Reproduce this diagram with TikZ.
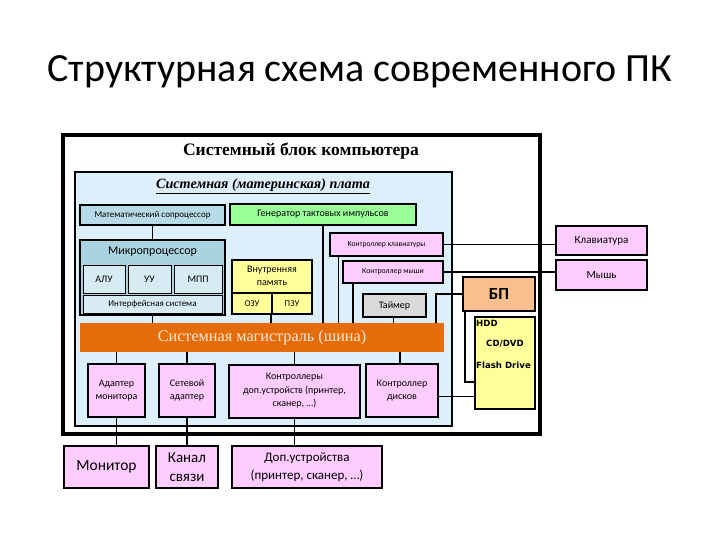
\documentclass[tikz,border=0pt]{standalone}
\usepackage{fontspec}
\setmainfont{Liberation Serif}
\setsansfont{Carlito}
\newfontfamily\boldsans{DejaVu Sans}
\usetikzlibrary{positioning,calc}
\definecolor{PCBoard}{HTML}{DDEFFA}
\definecolor{PCSteel}{HTML}{B7DBE6}
\definecolor{PCCpu}{HTML}{A9D3DF}
\definecolor{PCCpuPart}{HTML}{D6EBF2}
\definecolor{PCGreen}{HTML}{99FF99}
\definecolor{PCYellow}{HTML}{FFFF99}
\definecolor{PCPink}{HTML}{FFCCFF}
\definecolor{PCGray}{HTML}{D9D9D9}
\definecolor{PCOrange}{HTML}{E46C0A}
\definecolor{PCPeach}{HTML}{FABF8F}
\definecolor{PCCream}{HTML}{FDE9D9}
\newcommand{\fsz}[1]{\fontsize{#1}{\dimexpr #1pt*27/20\relax}\selectfont}

\begin{document}
\begin{tikzpicture}[
    x=1pt,y=-1pt,
    box/.style={draw=black, line width=2pt, inner sep=0pt, align=center,
      font=\sffamily\fsz{10}},
    pinkbox/.style={box, fill=PCPink},
    cpupart/.style={box, line width=1pt, fill=PCCpuPart},
    wire/.style={draw=black, line width=1.8pt}
  ]
    \useasboundingbox (0,0) rectangle (720,540);

    \node[font=\sffamily\fsz{40}, anchor=center] (title) at (360,72)
      {Структурная схема современного ПК};

    % системный блок и плата
    \node[draw=black, line width=4pt, minimum width=477, minimum height=299,
      inner sep=0pt] (unit) at (301.5,284.5) {};
    \node[font=\bfseries\fsz{17.5}] (unitlbl) at (301,151) {Системный блок компьютера};
    \node[draw=black, line width=2pt, fill=PCBoard, minimum width=377,
      minimum height=254, inner sep=0pt] (board) at (263.5,299) {};
    \node[font=\bfseries\itshape\fsz{14.2}] (boardlbl) at (263,186)
      {\underline{Системная (материнская) плата}};

    % верхний ряд
    \node[box, fill=PCSteel, minimum width=145, minimum height=20,
      font=\sffamily\fsz{9}] (cop) at (152.5,215) {Математический сопроцессор};
    \node[box, fill=PCGreen, minimum width=186, minimum height=21,
      font=\sffamily\fsz{10}] (gen) at (323,214.5) {Генератор тактовых импульсов};

    % микропроцессор
    \node[box, fill=PCCpu, minimum width=145, minimum height=75] (cpu) at (152.5,277.5) {};
    \node[font=\sffamily\fsz{12}] (cpulbl) at (152.5,252) {Микропроцессор};
    \node[cpupart, minimum width=42, minimum height=28] (alu) at (104,279) {АЛУ};
    \node[cpupart, minimum width=43, minimum height=28] (cu) at (149.5,279) {УУ};
    \node[cpupart, minimum width=48, minimum height=28] (mpp) at (198,279) {МПП};
    \node[cpupart, minimum width=139, minimum height=18,
      font=\sffamily\fsz{9}] (ifs) at (152.5,304) {Интерфейсная система};

    % память
    \node[box, fill=PCYellow, minimum width=80, minimum height=54] (mem) at (272,287) {};
    \node[font=\sffamily\fsz{10}, align=center] (memlbl) at (272,276)
      {Внутренняя\\память};
    \node[box, fill=PCYellow, minimum width=40, minimum height=21,
      font=\sffamily\fsz{9}] (ram) at (252,303.5) {ОЗУ};
    \node[box, fill=PCYellow, minimum width=40, minimum height=21,
      font=\sffamily\fsz{9}] (rom) at (292,303.5) {ПЗУ};

    % контроллеры справа
    \node[pinkbox, minimum width=113, minimum height=23,
      font=\sffamily\fsz{7.6}] (kbc) at (386.5,244.5) {Контроллер клавиатуры};
    \node[pinkbox, minimum width=100, minimum height=22,
      font=\sffamily\fsz{7.8}] (msc) at (393,272) {Контроллер мыши};
    \node[box, fill=PCGray, minimum width=63, minimum height=23,
      font=\sffamily\fsz{10}] (tmr) at (394.5,305.5) {Таймер};

    % шина
    \node[fill=PCOrange, minimum width=364, minimum height=29, inner sep=0pt,
      font=\fsz{16.2}, text=PCCream] (bus) at (262,337.5) {Системная магистраль (шина)};

    % нижний ряд платы
    \node[pinkbox, minimum width=57, minimum height=53] (vga) at (116.5,390.5)
      {Адаптер\\монитора};
    \node[pinkbox, minimum width=56, minimum height=53] (nic) at (187,390.5)
      {Сетевой\\адаптер};
    \node[pinkbox, minimum width=131, minimum height=53] (ioc) at (294.5,391)
      {Контроллеры\\доп.устройств (принтер,\\сканер, \dots)};
    \node[pinkbox, minimum width=72, minimum height=53] (hdc) at (402,390.5)
      {Контроллер\\дисков};

    % внешние устройства
    \node[pinkbox, minimum width=85, minimum height=42,
      font=\sffamily\fsz{15.5}] (mon) at (106.5,467) {Монитор};
    \node[pinkbox, minimum width=62, minimum height=42,
      font=\sffamily\fontsize{15}{18.5}\selectfont] (chan) at (187,467) {Канал\\связи};
    \node[pinkbox, minimum width=150, minimum height=42,
      font=\sffamily\fsz{13}] (ext) at (307,467) {Доп.устройства\\(принтер, сканер, \dots)};
    \node[pinkbox, minimum width=91, minimum height=29,
      font=\sffamily\fsz{11}] (kbd) at (601.5,240.5) {Клавиатура};
    \node[pinkbox, minimum width=91, minimum height=30,
      font=\sffamily\fsz{11}] (mouse) at (601.5,275) {Мышь};

    % питание и накопители
    \node[box, fill=PCPeach, minimum width=72, minimum height=34,
      font=\sffamily\bfseries\fsz{17}] (psu) at (499,294) {БП};
    \node[box, fill=PCYellow, minimum width=60, minimum height=92] (drv) at (505,363) {};
    \node[anchor=west, font=\boldsans\bfseries\fsz{8.6}, inner sep=0pt] (hdd)
      at (476,323) {HDD};
    \node[font=\boldsans\bfseries\fsz{8.6}, inner sep=0pt] (cd) at (505,344) {CD/DVD};
    \node[anchor=west, font=\boldsans\bfseries\fsz{8.6}, inner sep=0pt] (flash)
      at (476,365) {Flash Drive};

    % связи
    \draw[wire] (cop) -- (cpu);
    \draw[wire] (cpu.south) -- (cpu.south |- bus.north);
    \draw[wire] (rom.south west) -- (rom.south west |- bus.north);
    \draw[wire] (gen.south) -- (gen.south |- bus.north);
    \draw[wire] ([xshift=-48pt]kbc.south) -- ([xshift=-48pt]kbc.south |- bus.north);
    \draw[wire] ([xshift=-40pt]msc.south) -- ([xshift=-40pt]msc.south |- bus.north);
    \draw[wire] ([xshift=-1pt]tmr.south) -- ([xshift=-1pt]tmr.south |- bus.north);
    \coordinate (psuin) at ($(bus.north east)+(-8,0)$);
    \draw[wire] (psu.west) -| (psuin);
    \draw[wire] (kbc.east) -- (kbc.east -| kbd.west);
    \draw[wire] (msc.east) -- (msc.east -| mouse.west);

    \foreach \dev in {vga,nic,ioc}
      \draw[wire] (\dev.north |- bus.south) -- (\dev.north);
    \draw[wire] ([xshift=-2pt]hdc.north |- bus.south) -- ([xshift=-2pt]hdc.north);
    \draw[wire] (vga.south) -- (vga.south |- mon.north);
    \draw[wire] (nic.south) -- (chan.north);
    \draw[wire] (ioc.south) -- (ioc.south |- ext.north);
    \draw[wire] ([yshift=-6pt]hdc.east) -- ([yshift=-6pt]hdc.east -| drv.west);

    \coordinate (rail) at ($(psu.south west)+(3,0)$);
    \draw[wire] (rail) |- ($(drv.west)+(0,19)$);
    \foreach \dy in {-35,-9}
      \draw[wire] ($(drv.west)+(0,\dy)$ -| rail) -- ($(drv.west)+(0,\dy)$);
  \end{tikzpicture}
\end{document}
